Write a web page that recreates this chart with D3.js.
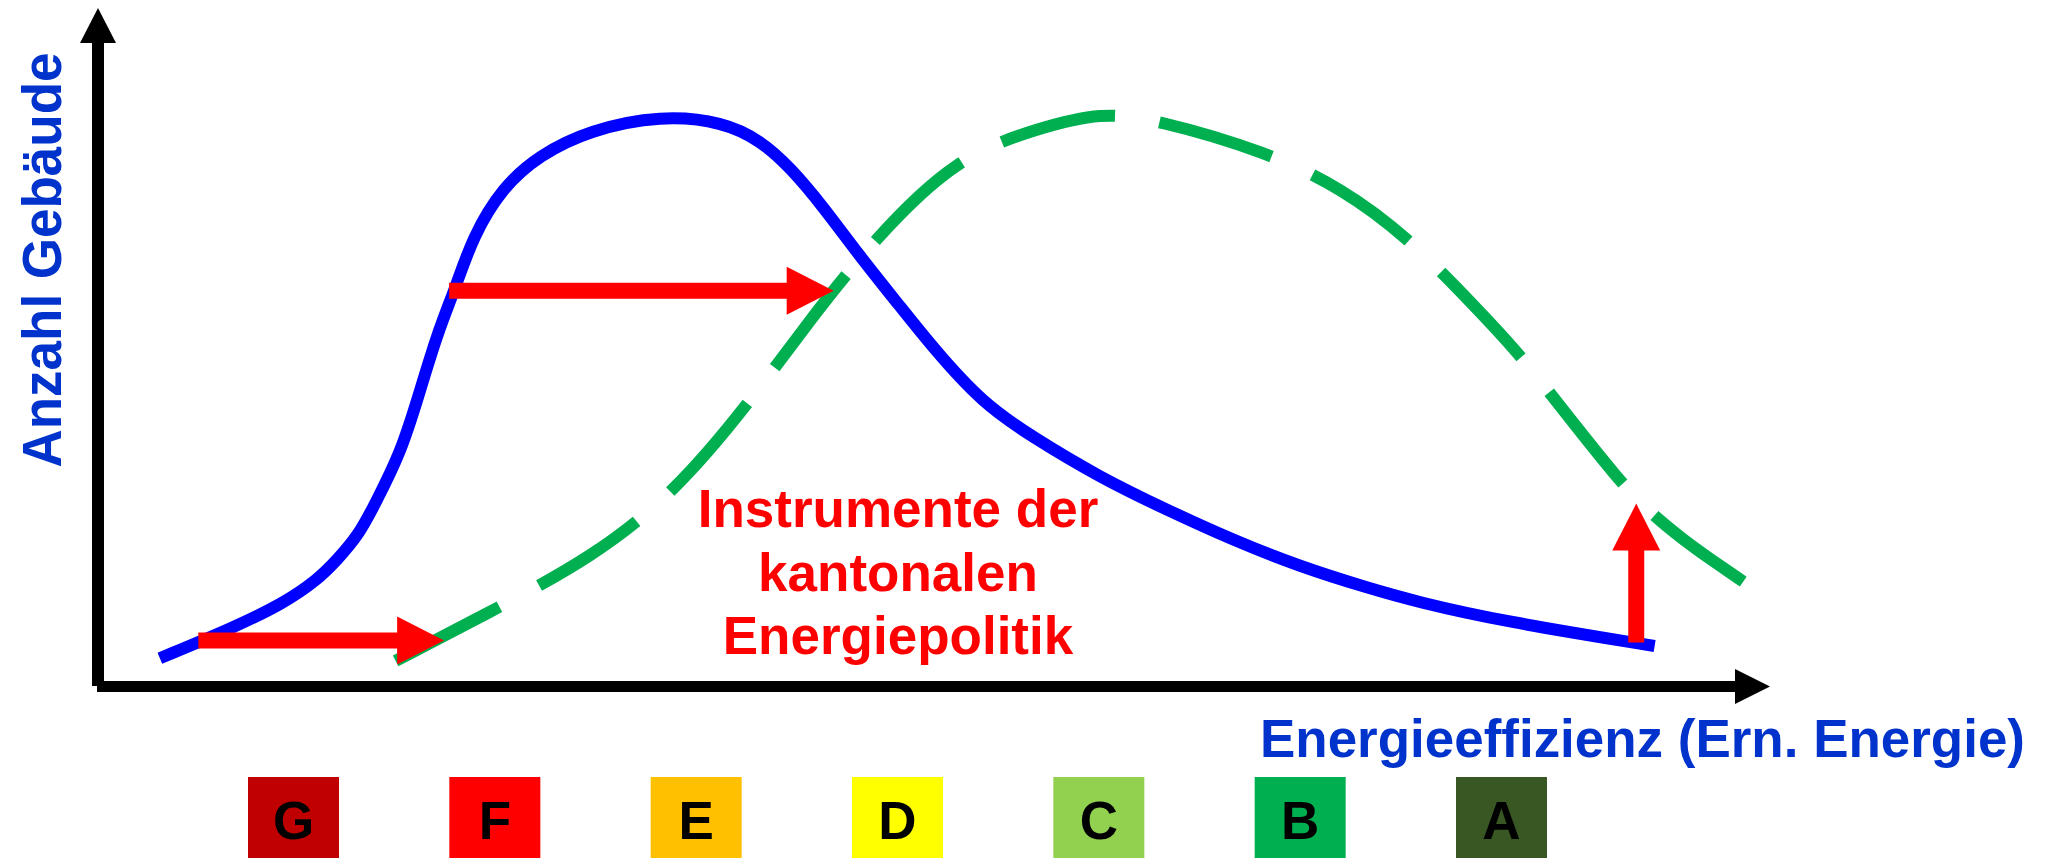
<!DOCTYPE html>
<html><head><meta charset="utf-8">
<script src="https://cdn.jsdelivr.net/npm/d3@7"></script>
<style>html,body{margin:0;padding:0;background:#fff;overflow:hidden}</style>
</head><body>
<svg id="c" width="2046" height="858"></svg>
<script>
// Heutiger Gebäudepark (blau, durchgezogen)
const heutigX = [3.7, 8.1, 11.1, 13.1, 14.3, 15.6, 16.6, 18.1, 19.1, 20.3, 21.4, 22.4, 24.2, 26.4, 29.4, 33.7, 37.4, 39.6, 41.4, 43.4, 45.4, 48.0, 49.9, 52.9, 55.9, 59.9, 63.9, 67.9, 71.9, 75.9, 78.9, 83.9, 93.1];
const heutigY = [4.1, 8.6, 12.2, 15.6, 18.6, 22.3, 27.0, 34.4, 42.2, 52.1, 58.8, 66.2, 73.6, 78.3, 82.0, 84.2, 83.2, 80.5, 76.5, 70.6, 63.9, 55.9, 50.0, 41.7, 36.7, 30.8, 26.0, 21.5, 17.6, 14.5, 12.4, 9.6, 5.9];
// Ziel-Gebäudepark (grün, gestrichelt)
const zielX = [17.8, 23.9, 29.5, 34.4, 38.9, 42.6, 46.4, 51.3, 56.4, 60.0, 63.2, 69.9, 74.4, 78.3, 82.5, 84.9, 87.5, 90.9, 92.8, 94.8, 96.5, 98.4];
const zielY = [3.7, 11.5, 18.9, 28.3, 41.6, 54.1, 65.8, 78.0, 82.4, 84.6, 83.6, 78.8, 73.4, 66.3, 55.6, 49.3, 41.1, 30.5, 25.6, 21.6, 18.6, 15.4];
// Pfeile (Instrumente)
const pfeilX1 = [6.0, 21.0, 92.0];
const pfeilY1 = [6.7, 58.3, 6.4];
const pfeilX2 = [20.7, 44.0, 92.0];
const pfeilY2 = [6.7, 58.3, 26.9];
// Energieklassen
const klassen = ["G", "F", "E", "D", "C", "B", "A"];
const klassenFarben = ["#C00000", "#FF0000", "#FFC000", "#FFFF00", "#92D050", "#00B050", "#385723"];
// Texte
const yTitel = "Anzahl Gebäude";
const xTitel = "Energieeffizienz (Ern. Energie)";
const hinweis = ["Instrumente der", "kantonalen", "Energiepolitik"];

const svg = d3.select("#c");
svg.append("rect").attr("width", 2046).attr("height", 858).attr("fill", "#fff");

const x = d3.scaleLinear().domain([0, 100]).range([98, 1770]);
const y = d3.scaleLinear().domain([0, 100]).range([686, 8]);
const FONT = "'Liberation Sans', Arial, Helvetica, sans-serif";

// Achsen
const x0 = x(0), y0 = y(0);
svg.append("line").attr("x1", x0).attr("x2", x0).attr("y1", y0).attr("y2", y.range()[1] + 35)
  .attr("stroke", "#000").attr("stroke-width", 12);
svg.append("path").attr("d", `M${x0 - 18},${y.range()[1] + 35} L${x0 + 18},${y.range()[1] + 35} L${x0},${y.range()[1]} Z`).attr("fill", "#000");
svg.append("line").attr("x1", x0 - 1).attr("x2", x.range()[1] - 35).attr("y1", y0 + 0.5).attr("y2", y0 + 0.5)
  .attr("stroke", "#000").attr("stroke-width", 11);
svg.append("path").attr("d", `M${x.range()[1] - 35},${y0 - 17} L${x.range()[1] - 35},${y0 + 18} L${x.range()[1]},${y0 + 0.5} Z`).attr("fill", "#000");

const line = d3.line().x(d => x(d[0])).y(d => y(d[1])).curve(d3.curveBasis);

// Ziel (grün gestrichelt)
svg.append("path").datum(zielX.map((v, i) => [v, zielY[i]]))
  .attr("d", line).attr("fill", "none").attr("stroke", "#00B050").attr("stroke-width", 12)
  .attr("stroke-dasharray", "117 45").attr("stroke-linecap", "butt");

// Heute (blau)
svg.append("path").datum(heutigX.map((v, i) => [v, heutigY[i]]))
  .attr("d", line).attr("fill", "none").attr("stroke", "#0000FF").attr("stroke-width", 12)
  .attr("stroke-linecap", "butt");

// Rote Pfeile
pfeilX1.forEach((v, i) => {
  const ax = x(v), ay = y(pfeilY1[i]), bx = x(pfeilX2[i]), by = y(pfeilY2[i]);
  const len = Math.hypot(bx - ax, by - ay), ux = (bx - ax) / len, uy = (by - ay) / len;
  const hl = 47, hw = 24;
  const cx = bx - ux * hl, cy = by - uy * hl;
  svg.append("line").attr("x1", ax).attr("y1", ay).attr("x2", cx + ux).attr("y2", cy + uy)
    .attr("stroke", "#FF0000").attr("stroke-width", 16);
  svg.append("path").attr("d", `M${cx - uy * hw},${cy + ux * hw} L${cx + uy * hw},${cy - ux * hw} L${bx},${by} Z`).attr("fill", "#FF0000");
});

// Hinweistext
const ht = svg.append("text").attr("font-family", FONT).attr("font-weight", "bold").attr("font-size", 53)
  .attr("fill", "#FF0000").attr("text-anchor", "middle");
hinweis.forEach((t, i) => ht.append("tspan").attr("x", 898).attr("y", 527 + i * 63.5).text(t));

// Achsentitel
svg.append("text").attr("transform", "translate(61,260) rotate(-90)")
  .attr("font-family", FONT).attr("font-weight", "bold").attr("font-size", 55)
  .attr("fill", "#0033CC").attr("text-anchor", "middle")
  .attr("textLength", 415).attr("lengthAdjust", "spacingAndGlyphs").text(yTitel);
svg.append("text").attr("x", 1260).attr("y", 757)
  .attr("font-family", FONT).attr("font-weight", "bold").attr("font-size", 53)
  .attr("fill", "#0033CC").attr("textLength", 765).attr("lengthAdjust", "spacingAndGlyphs").text(xTitel);

// Energieklassen
const k = d3.scalePoint().domain(klassen).range([293.5, 1501.5]);
const g = svg.append("g");
klassen.forEach((c, i) => {
  g.append("rect").attr("x", k(c) - 45.5).attr("y", 777).attr("width", 91).attr("height", 90).attr("fill", klassenFarben[i]);
  g.append("text").attr("x", k(c)).attr("y", 839).attr("text-anchor", "middle")
    .attr("font-family", FONT).attr("font-weight", "bold").attr("font-size", 53).attr("fill", "#000").text(c);
});
</script>
</body></html>
